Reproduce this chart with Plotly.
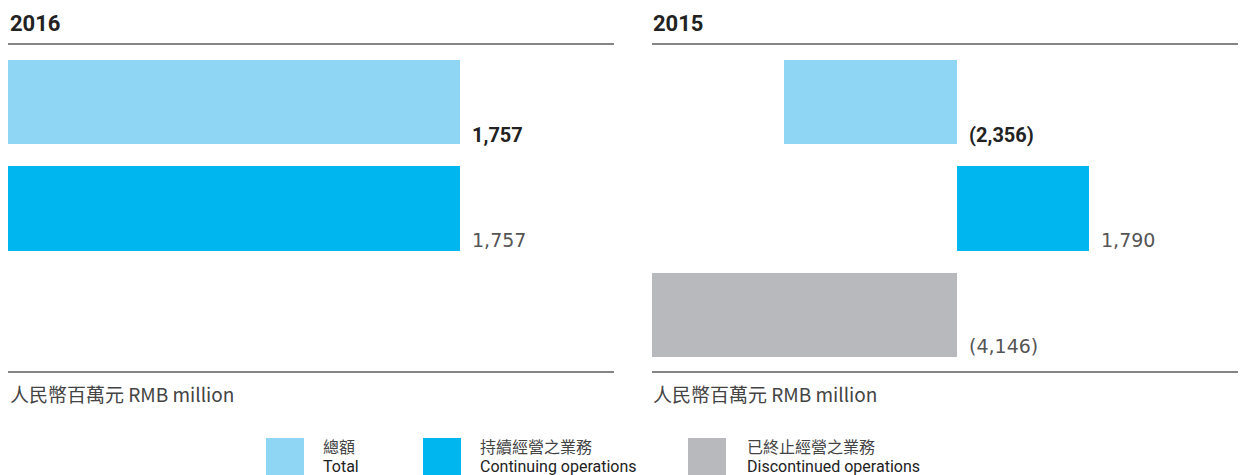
import plotly.graph_objects as go

# ---- data ----
years = ["2016", "2015"]
series_zh = ["總額", "持續經營之業務", "已終止經營之業務"]
series_en = ["Total", "Continuing operations", "Discontinued operations"]
values_2016 = [1757, 1757]            # total, continuing
values_2015 = [-2356, 1790, -4146]    # total, continuing, discontinued
labels_2016 = ["1,757", "1,757"]
labels_2015 = ["(2,356)", "1,790", "(4,146)"]
unit_label = "人民幣百萬元 RMB million"

colors = ["#8fd5f4", "#00b6ee", "#b8b9bc"]
OFF = 8  # page body margin
W, H = 1246 - OFF, 475 - OFF


def px(x):
    return (x - OFF) / W


def py(y):
    return 1 - (y - OFF) / H


fig = go.Figure()

ydom = [py(372), py(44)]
yrange = [2.535, -0.545]

fig.add_trace(go.Bar(
    x=values_2016, y=list(range(len(values_2016))), orientation="h",
    marker=dict(color=colors[:2], line=dict(width=0)), width=0.79,
    xaxis="x", yaxis="y", showlegend=False, hoverinfo="skip"))
fig.add_trace(go.Bar(
    x=values_2015, y=list(range(len(values_2015))), orientation="h",
    marker=dict(color=colors[:3], line=dict(width=0)), width=0.79,
    xaxis="x2", yaxis="y2", showlegend=False, hoverinfo="skip"))

ax = dict(showgrid=False, zeroline=False, showticklabels=False, showline=False, fixedrange=True)
fig.update_layout(
    width=W, height=H, margin=dict(l=0, r=0, t=0, b=0),
    paper_bgcolor="white", plot_bgcolor="white",
    xaxis=dict(domain=[px(8), px(614)], range=[0, 2356], **ax),
    yaxis=dict(domain=ydom, range=yrange, **ax),
    xaxis2=dict(domain=[px(652), 1.0], range=[-4146, 3928], anchor="y2", **ax),
    yaxis2=dict(domain=ydom, range=yrange, anchor="x2", **ax),
    bargap=0,
)

annos = []
bold_font = "Roboto, 'Noto Sans', sans-serif"
reg_font = "'DejaVu Sans', Roboto, sans-serif"


def value_label(x, i, lab, xr, yr):
    if i == 0:
        return dict(x=x, y=i + 0.395, xref=xr, yref=yr, text="<b>%s</b>" % lab,
                    showarrow=False, xanchor="left", yanchor="bottom", xshift=10, yshift=-5,
                    font=dict(family=bold_font, size=20, color="#222"))
    return dict(x=x, y=i + 0.395, xref=xr, yref=yr, text=lab,
                showarrow=False, xanchor="left", yanchor="bottom", xshift=10, yshift=-2,
                font=dict(family=reg_font, size=19, color="#555"))


for i, (v, lab) in enumerate(zip(values_2016, labels_2016)):
    annos.append(value_label(max(v, 0), i, lab, "x", "y"))
for i, (v, lab) in enumerate(zip(values_2015, labels_2015)):
    annos.append(value_label(max(v, 0), i, lab, "x2", "y2"))

for x0, yr in zip([8, 651], years):
    annos.append(dict(x=px(x0), y=py(23), xref="paper", yref="paper", text="<b>%s</b>" % yr,
                      showarrow=False, xanchor="left", yanchor="middle",
                      font=dict(family=bold_font, size=22, color="#222")))
    annos.append(dict(x=px(x0), y=py(393), xref="paper", yref="paper", text=unit_label,
                      showarrow=False, xanchor="left", yanchor="middle",
                      font=dict(family="'Noto Sans CJK TC', sans-serif", size=19, color="#444")))

shapes = []
for x0, x1 in [(8, 614), (652, 1246)]:
    for yy in [44, 372]:
        shapes.append(dict(type="line", xref="paper", yref="paper", x0=px(x0), x1=px(x1), y0=py(yy), y1=py(yy),
                           line=dict(color="#858585", width=2)))

sw_x = [266, 423, 688]
tx_x = [321, 478, 745]
for c, sx, tx, zh, en in zip(colors, sw_x, tx_x, series_zh, series_en):
    shapes.append(dict(type="rect", xref="paper", yref="paper", x0=px(sx), x1=px(sx + 38), y0=py(476), y1=py(438),
                       fillcolor=c, line=dict(width=0)))
    annos.append(dict(x=px(tx), y=py(446), xref="paper", yref="paper", text=zh, showarrow=False,
                      xanchor="left", yanchor="middle",
                      font=dict(family="'Noto Sans CJK TC', sans-serif", size=16, color="#444")))
    annos.append(dict(x=px(tx), y=py(466), xref="paper", yref="paper", text=en, showarrow=False,
                      xanchor="left", yanchor="middle",
                      font=dict(family=bold_font, size=16, color="#222")))

fig.update_layout(annotations=annos, shapes=shapes)
fig.write_html("out.html")
